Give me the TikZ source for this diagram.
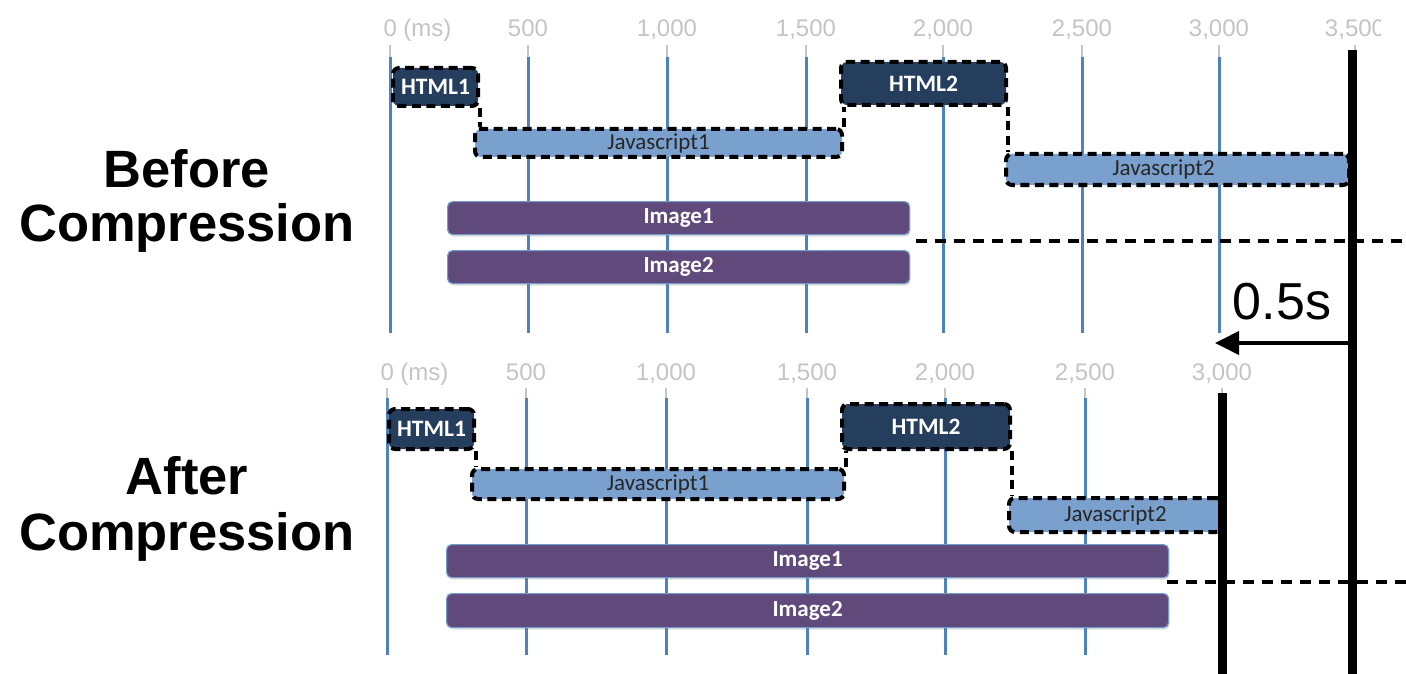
\documentclass[tikz,border=0pt]{standalone}
\usepackage{fontspec}
\setmainfont{Liberation Sans}
\newfontfamily\barfont{Carlito}
\usetikzlibrary{arrows.meta,shadows}

\definecolor{gridblue}{RGB}{79,129,189}
\definecolor{tickgray}{RGB}{196,196,196}
\definecolor{htmlnavy}{RGB}{38,62,94}
\definecolor{jsblue}{RGB}{122,161,206}
\definecolor{imgpurple}{RGB}{96,74,123}

\tikzset{
  tick/.style={font=\fontsize{24}{24}\selectfont, text=tickgray, anchor=base, inner sep=0pt},
  gridstub/.style={tickgray, line width=2.5pt},
  gridline/.style={gridblue, line width=3pt},
  critical/.style={draw=black, dash pattern=on 9pt off 5.5pt, line width=4pt},
  htmlbox/.style={critical, fill=htmlnavy, rounded corners=6pt, text=white, anchor=north west,
    font=\barfont\bfseries\fontsize{23.5}{23.5}\selectfont, inner sep=0pt},
  jsbox/.style={critical, fill=jsblue, rounded corners=6pt, text=black!85, anchor=north west,
    font=\barfont\fontsize{23}{23}\selectfont, inner sep=0pt},
  imgbox/.style={draw=gridblue!80, line width=1.2pt, fill=imgpurple, rounded corners=5pt,
    text=white, anchor=north west, font=\barfont\bfseries\fontsize{23}{23}\selectfont, inner sep=0pt,
    drop shadow={opacity=0.25, shadow xshift=1pt, shadow yshift=-2pt}},
  limitline/.style={black, dash pattern=on 11pt off 8pt, line width=4pt},
  cutbar/.style={black, line width=9pt},
  phase/.style={font=\bfseries\fontsize{52.5}{52.5}\selectfont, anchor=base}
}

\begin{document}
\begin{tikzpicture}[x=1pt, y=-1pt]
\useasboundingbox (0,0) rectangle (1406,674);

% before: grid and ticks
\foreach \gx in {390, 528, 667, 806, 943, 1082, 1219, 1355} {
	\draw[gridstub] (\gx, 45) -- (\gx, 57);
	\draw[gridline] (\gx, 57) -- (\gx, 333);
}
\begin{scope}
\clip (0,0) rectangle (1380,60);
\node[tick, anchor=base west] (ta0) at (383.3, 37) {0 (ms)};
\foreach \gx/\glab in {528/500, 667/{1,000}, 806/{1,500}, 943/{2,000}, 1082/{2,500}, 1219/{3,000}, 1355/{3,500}} {
	\node[tick] (ta\gx) at (\gx, 37) {\glab};
}
\end{scope}

% after: grid and ticks
\foreach \gx in {387, 526, 666, 807, 945, 1085, 1222} {
	\draw[gridstub] (\gx, 388) -- (\gx, 398);
	\draw[gridline] (\gx, 398) -- (\gx, 655);
}
\node[tick, anchor=base west] (tb0) at (380.3, 380) {0 (ms)};
\foreach \gx/\glab in {526/500, 666/{1,000}, 807/{1,500}, 945/{2,000}, 1085/{2,500}, 1222/{3,000}} {
	\node[tick] (tb\gx) at (\gx, 380) {\glab};
}

% before: requests
\node[htmlbox, minimum width=85pt, minimum height=38pt] (html1a) at (391, 66) {HTML1};
\node[jsbox, minimum width=367pt, minimum height=28pt] (js1a) at (473, 127) {Javascript1};
\node[htmlbox, minimum width=165pt, minimum height=43pt] (html2a) at (839, 60) {HTML2};
\node[jsbox, minimum width=343pt, minimum height=31pt] (js2a) at (1004, 152) {\hspace*{-28pt}Javascript2};
\node[imgbox, minimum width=462pt, minimum height=33pt] (img1a) at (447, 201) {Image1};
\node[imgbox, minimum width=462pt, minimum height=33pt] (img2a) at (447, 250) {Image2};

\draw[critical] (html1a.south east) -- (html1a.south east |- js1a.north);
\draw[critical] (js1a.north east) -- (js1a.north east |- html2a.south);
\draw[critical] (html2a.south east) -- (html2a.south east |- js2a.north);

% after: requests
\node[htmlbox, minimum width=85pt, minimum height=40pt] (html1b) at (387, 407) {HTML1};
\node[jsbox, minimum width=372pt, minimum height=30pt] (js1b) at (470, 467) {Javascript1};
\node[htmlbox, minimum width=168pt, minimum height=45pt] (html2b) at (840, 402) {HTML2};
\node[jsbox, minimum width=213pt, minimum height=34pt] (js2b) at (1007, 496) {Javascript2};
\node[imgbox, minimum width=722pt, minimum height=33pt] (img1b) at (446, 544) {Image1};
\node[imgbox, minimum width=722pt, minimum height=34pt] (img2b) at (446, 593) {Image2};

\draw[critical] (html1b.south east) -- (html1b.south east |- js1b.north);
\draw[critical] (js1b.north east) -- (js1b.north east |- html2b.south);
\draw[critical] (html2b.south east) -- (html2b.south east |- js2b.north);

% image ends
\coordinate (edgea) at (1406, 241);
\coordinate (edgeb) at (1406, 582);
\draw[limitline] ([xshift=6pt]img1a.south east |- edgea) -- (edgea);
\draw[limitline] ([xshift=-2pt]img1b.south east |- edgeb) -- (edgeb);

% load ends and gain
\coordinate (enda) at (1352, 50);
\coordinate (endafoot) at (1352, 674);
\coordinate (endb) at (1222, 393);
\coordinate (endbfoot) at (1222, 674);
\draw[cutbar] (enda) -- (endafoot);
\draw[cutbar] (endb) -- (endbfoot);

\coordinate (gain) at (1352, 343);
\coordinate (gaintip) at (1215, 343);
\draw[line width=4pt, -{Triangle[length=24pt, width=23pt]}] (gain) -- (gaintip);
\node[font=\fontsize{52}{52}\selectfont, anchor=base] (gainlabel) at (1282, 319) {0.5s};

% phase labels
\node[phase] (before1) at (187, 188) {Before};
\node[phase] (before2) at (187, 241) {Compression};
\node[phase] (after1) at (187, 494) {After};
\node[phase] (after2) at (187, 550) {Compression};

\end{tikzpicture}
\end{document}
